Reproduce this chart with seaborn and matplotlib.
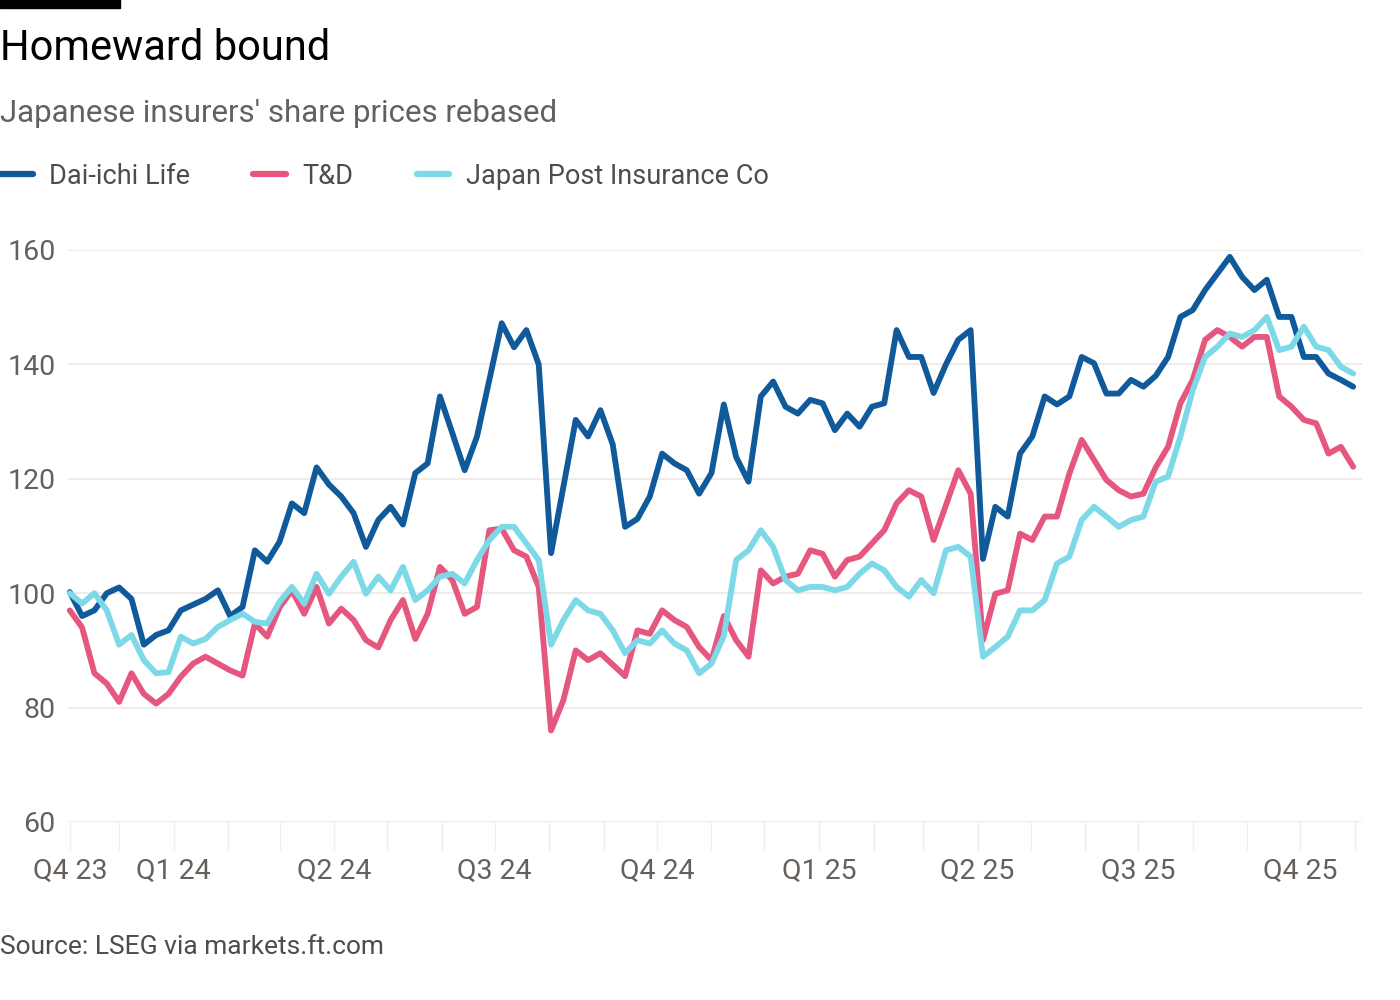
import pandas as pd
import numpy as np
import matplotlib.pyplot as plt
import matplotlib.dates as mdates
import seaborn as sns

# === Data (weekly, rebased to 100) ===
start = "2023-11-03"
n_weeks = 105

dai_ichi = [
    100.2, 96, 97, 100, 101, 99, 91, 92.7, 93.5, 97, 98, 99, 100.5, 96, 97.6, 107.5, 105.5, 109,
    115.7, 114, 122, 119, 116.9, 114, 108.1, 112.8, 115.1, 112, 121, 122.7, 134.4, 128, 121.5, 127.4, 137.3, 147.2,
    143, 146, 140, 107, 118.6, 130.3, 127.4, 132, 126, 111.6, 113, 116.9, 124.4, 122.7, 121.5, 117.4, 121, 133,
    123.8, 119.5, 134.4, 137, 132.6, 131.4, 133.8, 133.2, 128.5, 131.4, 129.1, 132.6, 133.2, 146, 141.3, 141.3, 135, 140,
    144.3, 146, 106, 115.1, 113.4, 124.4, 127.4, 134.4, 133, 134.4, 141.3, 140.2, 134.9, 134.9, 137.3, 136.1, 138,
    141.3, 148.3, 149.5, 153, 155.9, 158.8, 155.3, 153, 154.8, 148.3, 148.3, 141.3, 141.3, 138.4, 137.3, 136.1,
]
t_and_d = [
    97, 94, 86, 84.2, 81, 86, 82.4, 80.7, 82.4, 85.4, 87.7, 88.9, 87.7, 86.5, 85.6, 94.7, 92.4, 97.5,
    100.5, 96.4, 101.1, 94.7, 97.3, 95.3, 91.8, 90.5, 95.3, 98.8, 92, 96.4, 104.6, 102.3, 96.4, 97.6, 111, 111.3,
    107.5, 106.4, 101.1, 76, 81.3, 90, 88.3, 89.5, 87.5, 85.5, 93.5, 92.9, 97, 95.3, 94.1, 90.6, 88.3, 96,
    91.8, 88.9, 104, 101.7, 102.9, 103.4, 107.5, 106.9, 102.9, 105.8, 106.4, 108.7, 111, 115.7, 118, 116.9, 109.3, 115.4,
    121.5, 117.4, 91.8, 99.9, 100.5, 110.4, 109.3, 113.4, 113.4, 120.9, 126.8, 123.3, 119.8, 118, 116.9, 117.4, 122,
    125.6, 133.2, 137.3, 144.3, 146, 144.8, 143.1, 144.8, 144.8, 134.4, 132.6, 130.3, 129.7, 124.4, 125.6, 122.1,
]
japan_post = [
    100, 98.2, 100, 97, 91, 92.7, 88.3, 86, 86.2, 92.4, 91.2, 92, 94.1, 95.3, 96.4, 95, 94.7, 98.5,
    101.1, 98.2, 103.4, 99.9, 102.9, 105.5, 99.9, 102.9, 100.5, 104.6, 98.8, 100.5, 102.9, 103.4, 101.7, 105.8, 109.3, 111.6,
    111.6, 108.7, 105.8, 91, 95.3, 98.8, 97, 96.4, 93.5, 89.5, 91.8, 91.2, 93.5, 91.2, 90, 86, 87.7, 92.5,
    105.8, 107.5, 111, 108.1, 102.3, 100.5, 101.1, 101.1, 100.5, 101.1, 103.4, 105.2, 104, 101.1, 99.4, 102.3, 100, 107.5,
    108.1, 106.4, 88.9, 90.6, 92.4, 97, 97, 98.8, 105.2, 106.4, 112.8, 115.1, 113.4, 111.6, 112.8, 113.4, 119.5,
    120.4, 127.4, 135.5, 141.3, 143.1, 145.4, 144.8, 146, 148.3, 142.5, 143.1, 146.6, 143.1, 142.5, 139.6, 138.4,
]

series_names = ["Dai-ichi Life", "T&D", "Japan Post Insurance Co"]
colors = ["#105a9c", "#e5577f", "#7dd9e8"]

tick_dates = ["2023-11-03", "2024-01-01", "2024-04-01", "2024-07-01", "2024-10-01",
              "2025-01-01", "2025-04-01", "2025-07-01", "2025-10-01"]
tick_labels = ["Q4 23", "Q1 24", "Q2 24", "Q3 24", "Q4 24", "Q1 25", "Q2 25", "Q3 25", "Q4 25"]
y_ticks = [60, 80, 100, 120, 140, 160]

# === Build long table ===
dates = pd.date_range(start, periods=n_weeks, freq="7D")
df = pd.concat([
    pd.DataFrame({"date": dates, "value": vals, "company": name})
    for name, vals in zip(series_names, [dai_ichi, t_and_d, japan_post])
], ignore_index=True)

# === Plot ===
sns.set_style("white")
plt.rcParams["font.family"] = ["Roboto", "DejaVu Sans"]

fig = plt.figure(figsize=(14, 10), dpi=100)
ax = fig.add_axes([68 / 1400, 1 - 822 / 1000, (1362 - 68) / 1400, (822 - 250) / 1000])

sns.lineplot(data=df, x="date", y="value", hue="company", hue_order=series_names,
             palette=colors, linewidth=4.2, ax=ax, legend=False, clip_on=False)

ax.set_ylim(60, 160)
ax.set_xlim(pd.Timestamp(start) - pd.Timedelta(days=1), pd.Timestamp("2025-11-05"))
ax.set_yticks(y_ticks)
ax.yaxis.grid(True, color="#ebe8e5", linewidth=1.2)
ax.set_axisbelow(True)
for s in ax.spines.values():
    s.set_visible(False)

ax.set_xticks(pd.to_datetime(tick_dates))
ax.set_xticklabels(tick_labels)
ax.xaxis.set_minor_locator(mdates.MonthLocator())
ax.tick_params(axis="x", which="both", bottom=True, length=20, width=1, color="#efedeb",
               labelsize=20.5, labelcolor="#66605c", pad=6)
ax.tick_params(axis="y", left=False, length=0, labelsize=20.5, labelcolor="#66605c", pad=9)
ax.set_xlabel("")
ax.set_ylabel("")

# legend
handles = [plt.Line2D([0], [0], color=c, linewidth=4.5) for c in colors]
fig.legend(handles, series_names, loc="center left", bbox_to_anchor=(0.0, 0.824),
           ncol=3, frameon=False, fontsize=19.5, handlelength=1.2, handletextpad=0.6,
           columnspacing=2.35, borderpad=0, borderaxespad=0, labelcolor="#4d4d4d")

# titles and source
fig.patches.append(plt.Rectangle((0, 1 - 8 / 1000), 120 / 1400, 8 / 1000,
                                 transform=fig.transFigure, color="black"))
fig.text(0.0, 1 - 49 / 1000, "Homeward bound", fontsize=30, color="black", va="center")
fig.text(0.0, 1 - 114 / 1000, "Japanese insurers' share prices rebased", fontsize=22.5,
         color="#66605c", va="center")
fig.text(0.0, 1 - 947 / 1000, "Source: LSEG via markets.ft.com", fontsize=19,
         color="#4d4d4d", va="center")

fig.savefig("out.png", dpi=100, facecolor="white")
